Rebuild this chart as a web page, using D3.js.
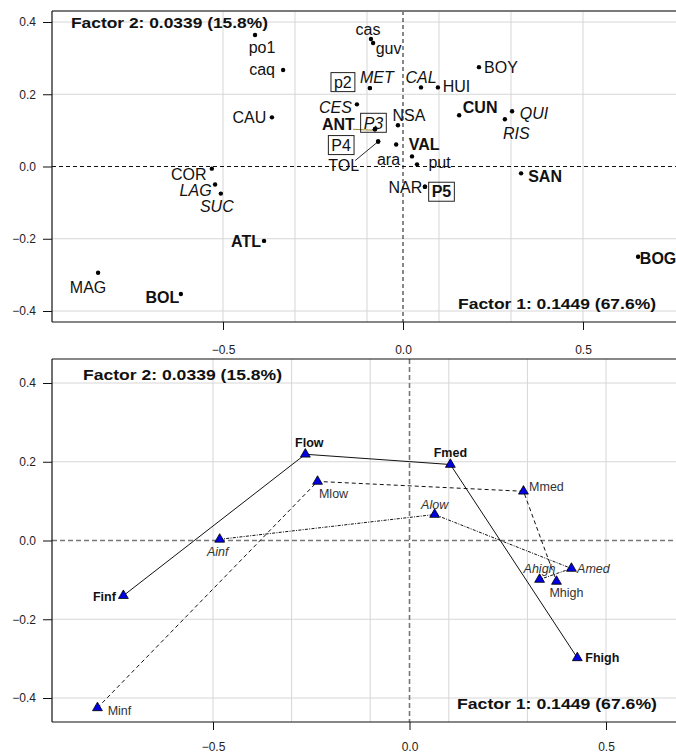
<!DOCTYPE html>
<html><head><meta charset="utf-8">
<script src="https://cdn.jsdelivr.net/npm/d3@7"></script>
<style>
html,body{margin:0;padding:0;background:#fff;}
svg{display:block;}
</style></head>
<body>
<script>
// ---------- DATA ----------
const xTicks = [-0.5, 0, 0.5];
const yTicks = [-0.4, -0.2, 0, 0.2, 0.4];
const gridX = [-0.5, -0.3, -0.1, 0.1, 0.3, 0.5];
const gridY = [-0.4, -0.2, 0.2, 0.4];
const factor1Label = "Factor 1: 0.1449 (67.6%)";
const factor2Label = "Factor 2: 0.0339 (15.8%)";

// top panel: rows
const rowLabels = ["po1","caq","CAU","cas","guv","MET","p2","CAL","HUI","BOY","CES","ANT","P3","NSA","CUN","QUI","RIS","P4","TOL","VAL","ara","put","NAR","P5","SAN","BOG","COR","LAG","SUC","ATL","MAG","BOL"];
const rowF1 = [-0.411,-0.333,-0.364,-0.089,-0.083,-0.092,-0.092,0.050,0.097,0.211,-0.128,-0.078,-0.078,-0.014,0.156,0.303,0.283,-0.069,-0.069,-0.019,0.025,0.039,0.061,0.061,0.328,0.653,-0.531,-0.522,-0.506,-0.386,-0.847,-0.617];
const rowF2 = [0.364,0.267,0.136,0.353,0.342,0.217,0.217,0.219,0.219,0.275,0.172,0.103,0.103,0.114,0.142,0.153,0.131,0.069,0.069,0.061,0.028,0.006,-0.056,-0.056,-0.019,-0.250,-0.006,-0.050,-0.075,-0.206,-0.294,-0.353];
const rowGroup = ["n","n","n","n","n","i","sn","i","n","n","i","b","si","n","b","i","i","sn","n","b","n","n","n","sb","b","b","n","i","i","b","n","b"];

// bottom panel: categories
const catLabels = ["Finf","Flow","Fmed","Fhigh","Minf","Mlow","Mmed","Mhigh","Ainf","Alow","Amed","Ahigh"];
const catF1 = [-0.728,-0.265,0.104,0.427,-0.794,-0.234,0.290,0.374,-0.483,0.064,0.412,0.331];
const catF2 = [-0.140,0.219,0.193,-0.298,-0.425,0.150,0.125,-0.104,0.003,0.066,-0.071,-0.099];
const catVar = ["F","F","F","F","M","M","M","M","A","A","A","A"];

// ---------- LAYOUT / STYLE ----------
const W = 676, H = 755;
const groupStyle = {
  n:{weight:"normal",style:"normal",box:false},
  b:{weight:"bold",style:"normal",box:false},
  i:{weight:"normal",style:"italic",box:false},
  sn:{weight:"normal",style:"normal",box:true},
  sb:{weight:"bold",style:"normal",box:true},
  si:{weight:"normal",style:"italic",box:true}
};
const rowOffset = {po1:[7,12],caq:[-21,-1],CAU:[-22.5,0],cas:[-3,-10],guv:[15.5,5],MET:[7,-11],p2:[-27,-6],
  CAL:[0,-10],HUI:[18.5,-1],BOY:[22,0],CES:[-21.5,3],ANT:[-36.5,-5],P3:[-1.5,-6.5],NSA:[11,-10],CUN:[21,-8],
  QUI:[22,2],RIS:[11.5,14],P4:[-37,3.5],TOL:[-34.5,24],VAL:[28,0],ara:[-23.5,3],put:[22.5,-2],NAR:[-19.5,1],
  P5:[16.5,5],SAN:[24,3],BOG:[20,1],COR:[-23,6],LAG:[-19.5,6],SUC:[-4,13],ATL:[-18,0],MAG:[-10,15],BOL:[-18.5,3]};
const catOffset = {Finf:[-19,1],Flow:[4,-12],Fmed:[0,-12],Fhigh:[25,0],Minf:[22,3],Mlow:[16,12],Mmed:[23,-5],
  Mhigh:[10,11],Ainf:[-2,12],Alow:[0,-10],Amed:[22,0],Ahigh:[0,-11]};
const catStyle = {F:{weight:"bold",style:"normal",dash:null},M:{weight:"normal",style:"normal",dash:"4,3"},A:{weight:"normal",style:"italic",dash:"3,1.3,1,1.3"}};

const FONT = "'Liberation Sans', Arial, Helvetica, sans-serif";
const svg = d3.select("body").append("svg").attr("width",W).attr("height",H)
  .style("font-family",FONT);

const fmt = d3.format(".1f");

function panel(cfg){
  const g = svg.append("g");
  const x = d3.scaleLinear().domain([-0.5,0.5]).range(cfg.xr);
  const y = d3.scaleLinear().domain([-0.4,0.4]).range(cfg.yr);
  const L = cfg.left, T = cfg.top, B = cfg.bottom, R = W+40;
  g.selectAll(".gx").data(gridX).join("line").attr("x1",d=>x(d)).attr("x2",d=>x(d))
    .attr("y1",T).attr("y2",B).attr("stroke","#d6d6d6").attr("stroke-width",1);
  g.selectAll(".gy").data(gridY).join("line").attr("x1",L).attr("x2",R)
    .attr("y1",d=>y(d)).attr("y2",d=>y(d)).attr("stroke","#d6d6d6").attr("stroke-width",1);
  g.append("line").attr("x1",x(0)).attr("x2",x(0)).attr("y1",T).attr("y2",B)
    .attr("stroke",cfg.zeroColor).attr("stroke-width",cfg.zeroW).attr("stroke-dasharray",cfg.zeroDash);
  g.append("line").attr("x1",L).attr("x2",R).attr("y1",y(0)).attr("y2",y(0))
    .attr("stroke",cfg.zeroColor).attr("stroke-width",cfg.zeroW).attr("stroke-dasharray",cfg.zeroDash);
  g.append("line").attr("x1",L).attr("x2",R).attr("y1",T).attr("y2",T)
    .attr("stroke",cfg.topColor).attr("stroke-width",cfg.topW);
  g.append("line").attr("x1",L).attr("x2",L).attr("y1",T).attr("y2",B).attr("stroke","#111").attr("stroke-width",1.2);
  g.append("line").attr("x1",L).attr("x2",R).attr("y1",B).attr("y2",B).attr("stroke","#111").attr("stroke-width",1.2);
  const ax = g.append("g").attr("transform",`translate(0,${B})`)
    .call(d3.axisBottom(x).tickValues(xTicks).tickFormat(fmt).tickSize(8).tickPadding(cfg.xPad));
  const ay = g.append("g").attr("transform",`translate(${L},0)`)
    .call(d3.axisLeft(y).tickValues(yTicks).tickFormat(fmt).tickSize(9).tickPadding(7));
  [ax,ay].forEach(a=>{
    a.select(".domain").remove();
    a.selectAll("line").attr("stroke","#111");
    a.selectAll("text").attr("fill","#222").style("font-size","12px").style("font-family",FONT);
  });
  g.append("text").attr("x",cfg.f2[0]).attr("y",cfg.f2[1]).text(factor2Label)
    .attr("font-weight","bold").attr("font-size",15.5).attr("fill","#111")
    .attr("textLength",cfg.f2[2]).attr("lengthAdjust","spacingAndGlyphs");
  g.append("text").attr("x",cfg.f1[0]).attr("y",cfg.f1[1]).text(factor1Label)
    .attr("font-weight","bold").attr("font-size",15.5).attr("fill","#111")
    .attr("textLength",cfg.f1[2]).attr("lengthAdjust","spacingAndGlyphs");
  return {g,x,y};
}

// ---------- TOP PANEL ----------
const P1 = panel({xr:[223,583], yr:[311,22], left:52, top:11, bottom:322,
  zeroColor:"#111", zeroW:1, zeroDash:"4,3", topColor:"#7a7a7a", topW:2, xPad:15,
  f2:[71,28,197], f1:[458,309,198]});
const rows = rowLabels.map((l,i)=>({label:l,f1:rowF1[i],f2:rowF2[i],grp:rowGroup[i]}));
const px = d=>P1.x(d.f1), py = d=>P1.y(d.f2);
const ant = rows.find(d=>d.label==="ANT"), tol = rows.find(d=>d.label==="TOL");
P1.g.append("line").attr("x1",px(ant)-22).attr("y1",py(ant)).attr("x2",px(ant)).attr("y2",py(ant)+1)
  .attr("stroke","#a08a2a").attr("stroke-width",1);
P1.g.append("line").attr("x1",px(tol)-23).attr("y1",py(tol)+19).attr("x2",px(tol)).attr("y2",py(tol))
  .attr("stroke","#111").attr("stroke-width",0.9);
P1.g.selectAll(".pt").data(rows).join("circle").attr("cx",px).attr("cy",py).attr("r",2.2).attr("fill","#000");
const lab = P1.g.selectAll(".lab").data(rows).join("g");
lab.each(function(d){
  const s = groupStyle[d.grp], o = rowOffset[d.label];
  const gg = d3.select(this);
  const t = gg.append("text").attr("x",px(d)+o[0]).attr("y",py(d)+o[1]).attr("dy","0.36em")
    .attr("text-anchor","middle").attr("font-size",16).attr("font-weight",s.weight)
    .attr("font-style",s.style).attr("fill","#111").text(d.label);
  if(s.box){
    const bb = t.node().getBBox();
    gg.insert("rect","text").attr("x",bb.x-3).attr("y",py(d)+o[1]-9.5).attr("width",bb.width+6).attr("height",19)
      .attr("fill","none").attr("stroke","#222").attr("stroke-width",1);
  }
});

// ---------- BOTTOM PANEL ----------
const P2 = panel({xr:[213,606], yr:[698,383], left:52, top:359, bottom:722,
  zeroColor:"#777", zeroW:1.6, zeroDash:"5,3", topColor:"#111", topW:1.2, xPad:12,
  f2:[83,380,199], f1:[457,709,200]});
const cats = catLabels.map((l,i)=>({label:l,f1:catF1[i],f2:catF2[i],v:catVar[i]}));
const qx = d=>P2.x(d.f1), qy = d=>P2.y(d.f2);
const line = d3.line().x(qx).y(qy);
["F","M","A"].forEach(v=>{
  P2.g.append("path").datum(cats.filter(d=>d.v===v)).attr("d",line).attr("fill","none")
    .attr("stroke","#111").attr("stroke-width",1).attr("stroke-dasharray",catStyle[v].dash);
});
P2.g.selectAll(".tri").data(cats).join("path")
  .attr("d",d3.symbol(d3.symbolTriangle,42))
  .attr("transform",d=>`translate(${qx(d)},${qy(d)})`)
  .attr("fill","#0000e0").attr("stroke","#000").attr("stroke-width",0.8);
P2.g.selectAll(".clab").data(cats).join("text")
  .attr("x",d=>qx(d)+catOffset[d.label][0]).attr("y",d=>qy(d)+catOffset[d.label][1]).attr("dy","0.36em")
  .attr("text-anchor","middle").attr("font-size",12.5)
  .attr("font-weight",d=>catStyle[d.v].weight).attr("font-style",d=>catStyle[d.v].style)
  .attr("fill",d=>d.v==="F"?"#111":"#333").text(d=>d.label);
</script>
</body></html>
